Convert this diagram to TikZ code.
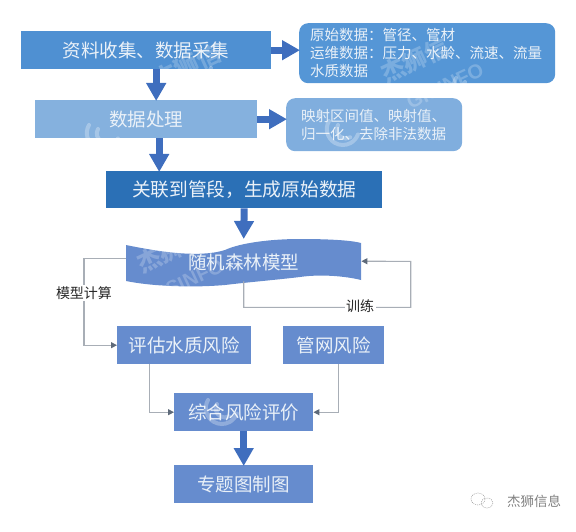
\documentclass[tikz,border=0pt]{standalone}
\usepackage{fontspec}
\setmainfont{Noto Sans CJK SC}
\newfontfamily\wmlatin{Liberation Sans}
\usetikzlibrary{arrows.meta}
\definecolor{boxA}{HTML}{4F90D2}
\definecolor{boxB}{HTML}{85B1DE}
\definecolor{boxC}{HTML}{2B70B6}
\definecolor{noteA}{HTML}{5596D6}
\definecolor{noteB}{HTML}{80AEDE}
\definecolor{boxD}{HTML}{668CCE}
\definecolor{blockarrow}{HTML}{3F6EBE}
\definecolor{thinline}{HTML}{A8AEB6}
\definecolor{thintip}{HTML}{5E6A7A}
\definecolor{txt}{HTML}{EAF1F8}
\tikzset{
  x=1pt,y=-1pt,
  flowbox/.style={rectangle,inner sep=0pt,text=txt,font=\fontsize{18.5}{22}\selectfont,anchor=north west},
  notebox/.style={rectangle,rounded corners=9pt,inner sep=0pt,text=txt,font=\fontsize{14.5}{17.8}\selectfont,align=left,anchor=north west},
  blockar/.style={draw=blockarrow,line width=7pt,-{Triangle[width=19pt,length=18pt]},shorten >=-1pt},
  thinar/.style={draw=thinline,line width=1.1pt,-{Triangle[width=6pt,length=6pt,color=thintip]}},
  lab/.style={fill=white,inner sep=1.5pt,text=black!85,font=\fontsize{14}{16}\selectfont},
  wmtext/.style={text=white,opacity=.22,rotate=25,font=\bfseries\fontsize{24}{26}\selectfont},
  wmlat/.style={text=white,opacity=.22,rotate=25,font=\wmlatin\bfseries\fontsize{20}{22}\selectfont},
  wmswirl/.style={draw=white,opacity=.28,line width=4pt,line cap=round},
}
\newcommand{\mybox}[6]{\node[flowbox,fill=#1,minimum width=#4pt,minimum height=#5pt] (#2) at #3 {#6};}
\newcommand{\wmring}[1]{\begin{scope}[shift={#1}]
  \draw[wmswirl] (-14,8) arc[start angle=210,end angle=20,radius=16];
  \draw[wmswirl] (-5,12) arc[start angle=210,end angle=60,radius=9];
\end{scope}}
\begin{document}
\begin{tikzpicture}
\useasboundingbox (0,0) rectangle (576,532);
% wave band
\fill[boxD] (126,245) .. controls (160,252) and (200,258) .. (225,250)
  .. controls (240,243) and (270,239) .. (300,239)
  .. controls (325,239) and (350,240) .. (361,243)
  -- (361,280) .. controls (345,276) and (320,274) .. (300,277)
  .. controls (275,280) and (250,282) .. (225,285)
  .. controls (190,288) and (150,286) .. (126,281) -- cycle;
\node[inner sep=0pt,minimum width=235pt,minimum height=46pt,anchor=north west,text=txt,font=\fontsize{18.5}{22}\selectfont] (wave) at (126,239) {随机森林模型};
% boxes
\mybox{boxA}{collect}{(21,31)}{250}{38}{资料收集、数据采集}
\mybox{boxB}{process}{(35,100)}{222}{38}{数据处理}
\mybox{boxC}{link}{(106,171)}{276}{37}{\fontsize{18.7}{22}\selectfont 关联到管段，生成原始数据}
\mybox{boxD}{evalq}{(117,326)}{134}{38}{评估水质风险}
\mybox{boxD}{pipe}{(283,326)}{101}{38}{管网风险}
\mybox{boxD}{total}{(174,393)}{139}{38}{综合风险评价}
\mybox{boxD}{topic}{(174,465)}{139}{38}{专题图制图}
\node[notebox,fill=noteA,minimum width=256pt,minimum height=60pt,text width=250pt] (noteone) at (299,23) {\hspace*{8pt}原始数据：管径、管材\\\hspace*{8pt}运维数据：压力、水龄、流速、流量\\\hspace*{8pt}水质数据};
\node[notebox,fill=noteB,minimum width=176pt,minimum height=53pt,text width=170pt] (notetwo) at (286,98) {\hspace*{12pt}映射区间值、映射值、\\\hspace*{12pt}归一化、去除非法数据};
% watermark
\node[wmtext] (wa) at (187,66) {杰狮信};
\node[wmtext] (wb) at (415,60) {杰狮信};
\node[wmtext] (wc) at (160,255) {杰狮};
\node[wmlat] (wd) at (445,86) {GISINFO};
\node[wmlat] (we) at (185,282) {GISINFO};
\wmring{(103,117)}
\wmring{(343,113)}
\wmring{(347,273)}
\wmring{(222,392)}
\wmring{(225,60)}
\wmring{(470,70)}
% block arrows
\draw[blockar] ([xshift=10pt]collect.south) -- ([xshift=10pt]process.north);
\draw[blockar] ([xshift=13pt]process.south) -- ([xshift=13pt]process.south |- link.north);
\draw[blockar] (link.south) -- ([yshift=1pt]wave.north);
\draw[blockar] (total.south) -- (topic.north);
\draw[blockar] (collect.east) -- (noteone.west |- collect.east);
\draw[blockar] (process.east) -- (notetwo.west |- process.east);
% thin connectors
\draw[thinar] ([yshift=4pt]wave.west) -- ++(-42,0) |- (evalq.west);
\draw[thinar] ([yshift=4pt]wave.south) -- ++(0,26) -- ++(167,0) -- ++(0,-46) -- ([yshift=1pt]wave.east);
\draw[thinar] ([xshift=-35pt]evalq.south) |- (total.west);
\draw[thinar] ([xshift=5pt]pipe.south) |- (total.east);
\node[lab] (lmodel) at (84,293) {模型计算};
\node[lab] (ltrain) at (360,306) {训练};
% corner mark
\begin{scope}[draw=black!40,line width=.5pt,dash pattern=on 1pt off 1pt]
\draw (478,499) ellipse[x radius=7,y radius=6];
\draw (487,503) ellipse[x radius=6,y radius=5];
\end{scope}
\node[text=black!50,inner sep=0pt,font=\fontsize{13.5}{16}\selectfont] (brand) at (534,501) {杰狮信息};
\end{tikzpicture}
\end{document}
